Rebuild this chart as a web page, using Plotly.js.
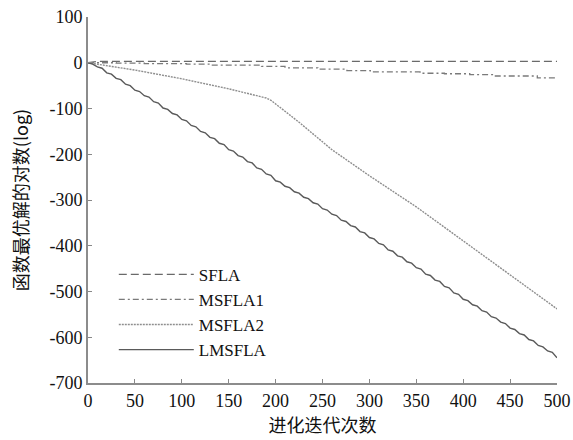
<!DOCTYPE html>
<html>
<head>
<meta charset="utf-8">
<script src="https://cdn.plot.ly/plotly-3.0.1.min.js"></script>
<style>html,body{margin:0;padding:0;background:#fff;}#chart{width:573px;height:440px;}</style>
</head>
<body>
<div id="chart"></div>
<script>
// Data
const sflaX = [0, 10, 100, 200, 300, 400, 500];
const sflaY = [0, 3, 3, 3, 3, 3, 3];

const msfla1X = [0, 30, 60, 105, 130, 185, 210, 245, 276, 301, 354, 380, 407, 432, 479, 500];
const msfla1Y = [0, -1, -2, -3, -5, -8, -11, -14, -17, -20, -23, -24, -26, -29, -33, -34];

const msfla2X = [0, 50, 100, 150, 190, 195, 200, 225, 260, 300, 350, 400, 450, 500];
const msfla2Y = [0, -16, -35, -57, -77, -82, -90, -130, -190, -247, -315, -389, -464, -538];

const lmsflaX = [0,5,10,15,20,25,30,35,40,45,50,55,60,65,70,75,80,85,90,95,100,
  105,110,115,120,125,130,135,140,145,150,155,160,165,170,175,180,185,190,195,200,
  205,210,215,220,225,230,235,240,245,250,255,260,265,270,275,280,285,290,295,300,
  305,310,315,320,325,330,335,340,345,350,355,360,365,370,375,380,385,390,395,400,
  405,410,415,420,425,430,435,440,445,450,455,460,465,470,475,480,485,490,495,500];
const lmsflaY = [0,-3,-9,-12,-22,-25,-34,-37,-47,-50,-60,-63,-72,-75,-85,-88,-99,-102,-111,-114,-124,
  -127,-137,-140,-150,-153,-163,-166,-176,-179,-190,-193,-203,-206,-216,-219,-230,-233,-243,-246,-258,
  -261,-270,-273,-282,-285,-294,-297,-306,-309,-319,-322,-331,-334,-344,-347,-356,-359,-369,-372,-382,
  -385,-395,-398,-409,-412,-422,-425,-435,-438,-448,-451,-462,-465,-475,-478,-489,-492,-503,-506,-517,
  -520,-529,-532,-542,-545,-555,-558,-567,-570,-580,-583,-592,-595,-605,-608,-618,-621,-630,-633,-645];

const seriesNames = ['SFLA', 'MSFLA1', 'MSFLA2', 'LMSFLA'];
const xTickVals = [0, 50, 100, 150, 200, 250, 300, 350, 400, 450, 500];
const yTickVals = [100, 0, -100, -200, -300, -400, -500, -600, -700];
const yTickText = ['100', '0', '-100', '-200', '-300', '-400', '-500', '-600', '-700'];

const serif = '"Liberation Serif", "Times New Roman", serif';
const traces = [
  {x: sflaX, y: sflaY, name: seriesNames[0], mode: 'lines', line: {color: '#6a6a6a', width: 1.3, dash: '8px,4px'}},
  {x: msfla1X, y: msfla1Y, name: seriesNames[1], mode: 'lines', line: {color: '#7a7a7a', width: 1.3, dash: '6px,3px,2px,3px', shape: 'hv'}},
  {x: msfla2X, y: msfla2Y, name: seriesNames[2], mode: 'lines', line: {color: '#8e8e8e', width: 1.4, dash: '2px,1px'}},
  {x: lmsflaX, y: lmsflaY, name: seriesNames[3], mode: 'lines', line: {color: '#5a5a5a', width: 1.4}}
];

const layout = {
  width: 573, height: 440,
  margin: {l: 88, r: 16, t: 17, b: 57},
  paper_bgcolor: '#fff', plot_bgcolor: '#fff',
  font: {family: serif, size: 18, color: '#111'},
  showlegend: true,
  legend: {x: 0.055, y: 0.345, xanchor: 'left', yanchor: 'top', bgcolor: 'rgba(0,0,0,0)',
           font: {family: serif, size: 17, color: '#111'}, itemwidth: 75, tracegroupgap: 0},
  xaxis: {range: [0, 500], tickvals: xTickVals, ticks: 'inside', ticklen: 4, tickcolor: '#888',
          showline: true, linecolor: '#8c8c8c', linewidth: 2, showgrid: false, zeroline: false,
          tickfont: {family: serif, size: 18, color: '#111'},
          title: {text: '进化迭代次数', font: {family: 'Noto Sans CJK SC', size: 18}, standoff: 4}},
  yaxis: {range: [-700, 100], tickvals: yTickVals, ticktext: yTickText, ticks: 'inside', ticklen: 4, tickcolor: '#888',
          showline: true, linecolor: '#8c8c8c', linewidth: 2, showgrid: false, zeroline: false,
          tickfont: {family: serif, size: 18, color: '#111'},
          title: {text: '函数最优解的对数(log)', font: {family: 'Noto Sans CJK SC', size: 18}, standoff: 16}}
};

Plotly.newPlot('chart', traces, layout, {displayModeBar: false, staticPlot: true});
</script>
</body>
</html>
